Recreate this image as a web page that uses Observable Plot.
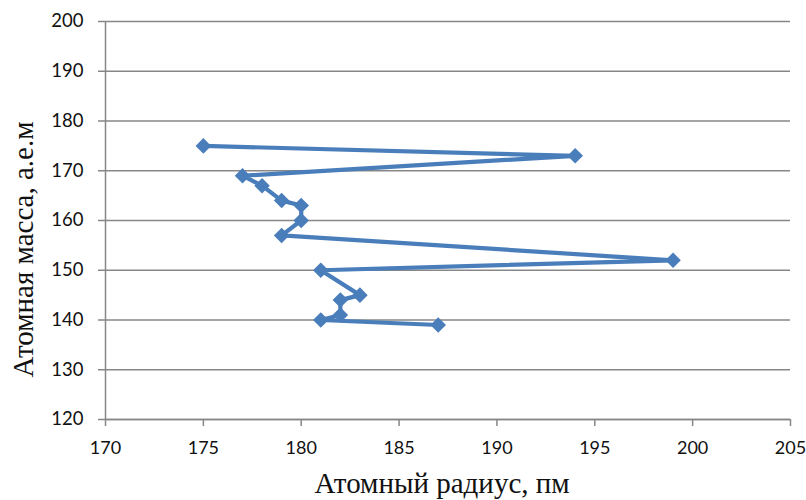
<!DOCTYPE html>
<html>
<head>
<meta charset="utf-8">
<script src="https://cdn.jsdelivr.net/npm/d3@7"></script>
<script src="https://cdn.jsdelivr.net/npm/@observablehq/plot@0.6"></script>
<style>
  html, body { margin: 0; padding: 0; background: #fff; }
</style>
</head>
<body>
<div id="chart"></div>
<script>
// Atomic mass (a.e.m) and atomic radius (pm), in drawing order
const mass   = [139, 140, 141, 144, 145, 150, 152, 157, 160, 163, 164, 167, 169, 173, 175];
const radius = [187, 181, 182, 182, 183, 181, 199, 179, 180, 180, 179, 178, 177, 194, 175];
const xTicks = [170, 175, 180, 185, 190, 195, 200, 205];
const yTicks = [120, 130, 140, 150, 160, 170, 180, 190, 200];
const xTitle = "Атомный радиус, пм";
const yTitle = "Атомная масса, а.е.м";

const data = mass.map((m, i) => ({mass: m, radius: radius[i]}));
const gray = "#878787";
const blue = "#4a7ebb";
const serif = "'Liberation Serif', 'DejaVu Serif', serif";

const chart = Plot.plot({
  width: 806,
  height: 500,
  marginLeft: 105,
  marginRight: 16,
  marginTop: 21,
  marginBottom: 81,
  style: {fontFamily: "Lato, 'Open Sans', sans-serif", background: "#fff", overflow: "visible"},
  x: {domain: [170, 205], label: null},
  y: {domain: [120, 200], label: null},
  marks: [
    Plot.gridY(yTicks, {stroke: gray, strokeOpacity: 1, strokeWidth: 1.5}),
    Plot.axisY(yTicks, {tickSize: 7, tickPadding: 15, fontSize: 18.5, stroke: gray, strokeWidth: 1.5, fill: "#111"}),
    Plot.axisX(xTicks, {tickSize: 7, tickPadding: 15, fontSize: 18, stroke: gray, strokeWidth: 1.5, fill: "#111"}),
    Plot.ruleX([170], {stroke: gray, strokeWidth: 1.5}),
    Plot.ruleY([120], {stroke: gray, strokeWidth: 1.5}),
    Plot.line(data, {x: "radius", y: "mass", stroke: blue, strokeWidth: 4.2, strokeLinejoin: "round", strokeLinecap: "round"}),
    Plot.dot(data, {x: "radius", y: "mass", symbol: "diamond2", r: 7, fill: blue, stroke: "none"}),
    Plot.text([xTitle], {frameAnchor: "bottom", text: d => d, dy: 64, dx: -6, lineAnchor: "middle", textAnchor: "middle",
      fontSize: 29, fontFamily: serif, fill: "#111"}),
    Plot.text([yTitle], {frameAnchor: "left", text: d => d, dx: -82, dy: 29, rotate: -90, lineAnchor: "middle", textAnchor: "middle",
      fontSize: 29, fontFamily: serif, fill: "#111"})
  ]
});
document.getElementById("chart").appendChild(chart);
</script>
</body>
</html>
